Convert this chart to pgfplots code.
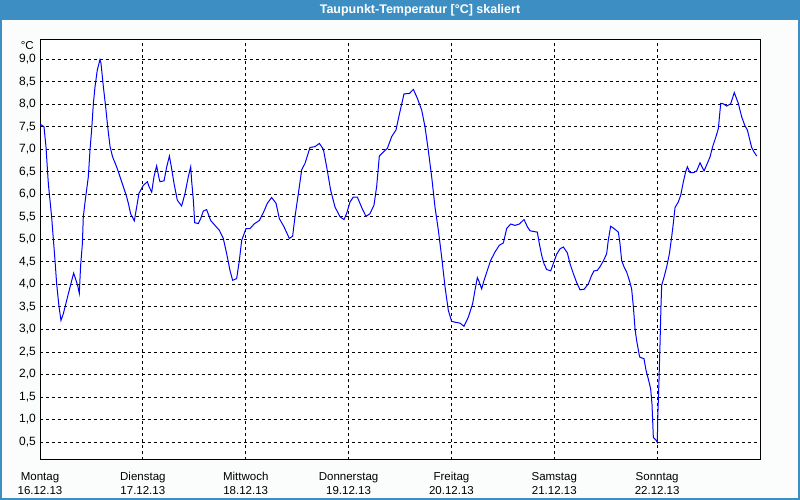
\documentclass[border=0pt]{standalone}
\usepackage{pgfplots}
\pgfplotsset{compat=1.18}
\usepackage{fontspec}
\setmainfont{Liberation Sans}
\definecolor{barblue}{RGB}{61,143,195}
\definecolor{bgc}{RGB}{250,253,251}
\begin{document}
\begin{tikzpicture}[x=1pt,y=1pt]
\useasboundingbox (0,0) rectangle (800,500);
\fill[bgc] (0,0) rectangle (800,500);
\begin{axis}[
  at={(40pt,40pt)}, anchor=south west,
  width=720pt, height=420pt, scale only axis,
  xmin=0, xmax=7, ymin=0.1, ymax=9.427,
  xtick={0,1,2,3,4,5,6},
  xticklabels={{Montag\\16.12.13},{Dienstag\\17.12.13},{Mittwoch\\18.12.13},{Donnerstag\\19.12.13},{Freitag\\20.12.13},{Samstag\\21.12.13},{Sonntag\\22.12.13}},
  ytick={0.5,1.0,1.5,2.0,2.5,3.0,3.5,4.0,4.5,5.0,5.5,6.0,6.5,7.0,7.5,8.0,8.5,9.0},
  yticklabel={\pgfmathprintnumber[fixed,fixed zerofill,precision=1,use comma]{\tick}},
  /pgf/number format/assume math mode=true,
  xticklabel style={align=center, inner sep=0pt, font=\fontsize{11.5}{14}\selectfont, yshift=-12pt},
  yticklabel style={inner sep=0pt, font=\fontsize{12}{13}\selectfont, xshift=-4pt},
  grid=major,
  major grid style={black, dash pattern=on 3pt off 3pt, line width=0.8pt},
  axis line style={black, line width=1pt},
  major tick length=0pt,
  axis background/.style={fill=white},
]
\addplot[blue, line width=1pt] coordinates {
(0.000,7.56) (0.039,7.50) (0.058,7.06) (0.081,6.24) (0.113,5.50) (0.146,4.53) (0.162,4.01) (0.185,3.50) (0.204,3.20) (0.227,3.35) (0.259,3.64) (0.292,3.94) (0.327,4.25) (0.350,4.09) (0.366,3.98) (0.382,3.80) (0.395,4.42) (0.412,4.90) (0.421,5.50) (0.444,5.94) (0.470,6.39) (0.486,6.98) (0.502,7.43) (0.519,8.02) (0.535,8.39) (0.557,8.76) (0.583,8.99) (0.593,8.91) (0.616,8.39) (0.638,7.95) (0.658,7.50) (0.681,7.06) (0.706,6.83) (0.745,6.61) (0.778,6.39) (0.810,6.17) (0.843,5.94) (0.859,5.80) (0.881,5.57) (0.917,5.41) (0.940,5.72) (0.962,6.02) (1.005,6.20) (1.044,6.28) (1.060,6.17) (1.086,6.05) (1.108,6.39) (1.134,6.63) (1.160,6.33)
(1.167,6.28) (1.206,6.30) (1.232,6.61) (1.258,6.85) (1.280,6.57) (1.303,6.24) (1.335,5.87) (1.377,5.74) (1.410,6.02) (1.442,6.39) (1.465,6.61) (1.475,6.28) (1.491,5.87) (1.504,5.37) (1.539,5.35) (1.562,5.46) (1.588,5.63) (1.620,5.66) (1.659,5.42) (1.701,5.31) (1.744,5.20) (1.782,5.02) (1.815,4.68) (1.847,4.31) (1.873,4.09) (1.912,4.13) (1.938,4.53) (1.961,4.98) (2.003,5.24) (2.042,5.24) (2.081,5.34) (2.133,5.42) (2.171,5.59) (2.210,5.80) (2.252,5.93) (2.295,5.80) (2.327,5.46)
(2.372,5.28) (2.424,5.02) (2.456,5.07) (2.479,5.50) (2.512,6.02) (2.544,6.54) (2.577,6.69) (2.625,7.04) (2.674,7.06) (2.716,7.13) (2.755,7.00) (2.787,6.61) (2.826,6.09) (2.868,5.72) (2.917,5.50) (2.956,5.44) (2.982,5.58) (3.014,5.83) (3.046,5.94) (3.085,5.94) (3.127,5.71) (3.169,5.51) (3.208,5.57) (3.247,5.76) (3.273,6.17) (3.299,6.85) (3.338,6.94) (3.377,7.02) (3.419,7.28) (3.461,7.43) (3.494,7.78)
(3.539,8.23) (3.591,8.24) (3.630,8.33) (3.669,8.13) (3.711,7.87) (3.743,7.50) (3.775,6.98) (3.808,6.39) (3.840,5.72) (3.873,5.20) (3.905,4.61) (3.938,3.94) (3.970,3.42) (4.002,3.18) (4.035,3.16) (4.083,3.14) (4.122,3.07) (4.164,3.27) (4.206,3.57) (4.229,3.87) (4.252,4.15) (4.271,4.05) (4.294,3.90) (4.317,4.09) (4.349,4.31) (4.381,4.53) (4.424,4.72) (4.466,4.87) (4.505,4.92) (4.537,5.24) (4.576,5.34) (4.618,5.31) (4.660,5.34)
(4.706,5.44) (4.738,5.28) (4.764,5.19) (4.835,5.16) (4.855,4.90) (4.877,4.65) (4.900,4.46) (4.926,4.33) (4.965,4.30) (4.997,4.50) (5.023,4.67) (5.056,4.79) (5.088,4.83) (5.127,4.70) (5.153,4.46) (5.185,4.24) (5.218,4.04) (5.250,3.88) (5.289,3.89) (5.331,4.01) (5.363,4.20) (5.386,4.30) (5.418,4.31) (5.444,4.39) (5.477,4.52) (5.509,4.68) (5.525,4.98) (5.548,5.29) (5.581,5.24) (5.623,5.16) (5.639,4.90) (5.655,4.53) (5.678,4.39) (5.704,4.27) (5.730,4.09) (5.752,3.90) (5.769,3.50) (5.785,3.01) (5.801,2.75) (5.827,2.42)
(5.833,2.38) (5.872,2.35) (5.892,2.09) (5.914,1.90) (5.937,1.68) (5.950,1.34) (5.963,0.60) (5.989,0.54) (6.002,0.49) (6.005,0.98) (6.018,1.87) (6.028,2.68) (6.037,3.50) (6.044,3.98) (6.067,4.16) (6.093,4.39) (6.119,4.68) (6.141,5.05) (6.157,5.35) (6.174,5.71) (6.206,5.83) (6.229,5.98) (6.255,6.28) (6.277,6.50) (6.294,6.61) (6.319,6.48) (6.352,6.48) (6.384,6.52) (6.417,6.70) (6.456,6.52) (6.481,6.65) (6.514,6.83) (6.540,7.06) (6.572,7.28) (6.595,7.46) (6.618,8.02) (6.643,8.01) (6.676,7.96) (6.715,8.01) (6.750,8.26) (6.789,8.02) (6.822,7.72) (6.854,7.52) (6.877,7.43) (6.919,7.04) (6.942,6.94) (6.968,6.85)
};
\end{axis}
\node[anchor=east, inner sep=0pt, font=\fontsize{11.5}{13}\selectfont] at (34,454) {°C};
\fill[barblue] (0,480) rectangle (800,500);
\node[text=white, font=\fontsize{12.5}{14}\selectfont\bfseries] at (420,490) {Taupunkt-Temperatur [°C] skaliert};
\draw[barblue, line width=2pt] (1,1) rectangle (799,499);
\end{tikzpicture}
\end{document}
